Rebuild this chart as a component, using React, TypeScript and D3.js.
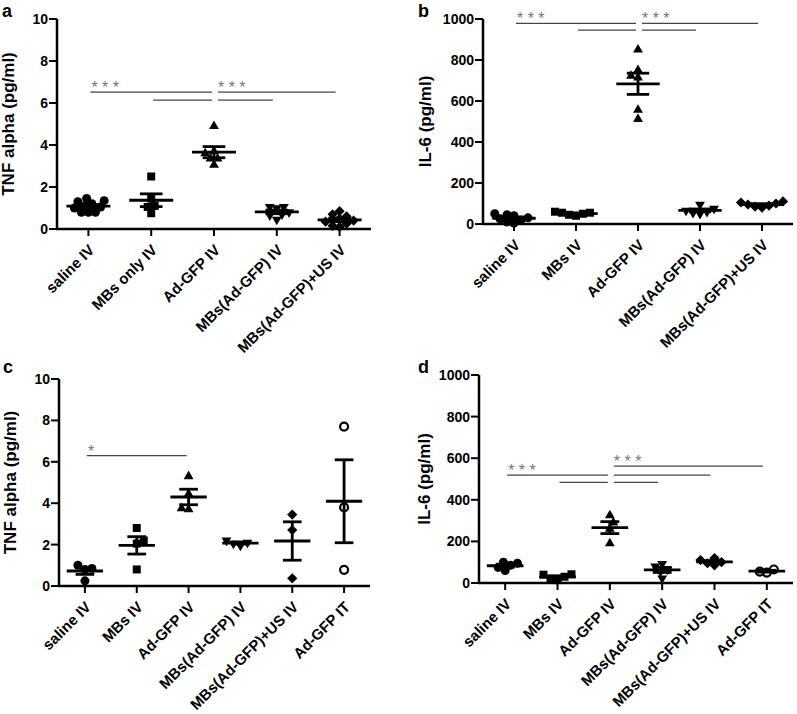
import React from "react";
import * as d3 from "d3";

// ---------- data ----------
const groupsA = ["saline IV", "MBs only IV", "Ad-GFP IV", "MBs(Ad-GFP) IV", "MBs(Ad-GFP)+US IV"];
const groupsB = ["saline IV", "MBs IV", "Ad-GFP IV", "MBs(Ad-GFP) IV", "MBs(Ad-GFP)+US IV"];
const groupsCD = ["saline IV", "MBs IV", "Ad-GFP IV", "MBs(Ad-GFP) IV", "MBs(Ad-GFP)+US IV", "Ad-GFP IT"];

const tnfA: number[][] = [
  [0.8, 0.8, 0.8, 1.0, 1.1, 1.2, 1.3, 1.45, 1.35, 1.05],
  [2.5, 1.45, 1.1, 1.05, 0.75],
  [4.9, 3.7, 3.35, 3.35, 3.05, 3.6],
  [1.05, 1.05, 1.0, 0.8, 0.65, 0.45, 0.7],
  [0.85, 0.7, 0.6, 0.5, 0.35, 0.25, 0.15, 0.1, 0.4],
];
const il6B: number[][] = [
  [50, 45, 40, 30, 25, 20, 10, 5],
  [60, 55, 55, 50, 45, 40],
  [850, 750, 722, 714, 556, 512],
  [95, 75, 65, 60, 55, 50],
  [110, 105, 100, 95, 90, 85, 80],
];
const tnfC: number[][] = [
  [1.0, 0.85, 0.8, 0.25],
  [2.8, 2.2, 2.05, 0.8],
  [5.3, 4.45, 3.75, 3.7],
  [2.2, 2.1, 2.05, 1.95],
  [3.45, 2.7, 0.37],
  [7.7, 3.8, 0.78],
];
const il6D: number[][] = [
  [95, 100, 85, 75, 60],
  [42, 40, 30, 20, 14],
  [325, 290, 260, 190],
  [92, 80, 65, 55, 22],
  [120, 110, 100, 95, 85],
  [65, 50, 55],
];

// significance bars: [fromGroup, toGroup, yValue]
const sigA: [number, number, number][] = [[0, 2, 6.52], [1, 2, 6.14], [2, 4, 6.52], [2, 3, 6.14]];
const sigB: [number, number, number][] = [[0, 2, 979], [1, 2, 946], [2, 4, 979], [2, 3, 946]];
const sigC: [number, number, number][] = [[0, 2, 6.3]];
const sigD: [number, number, number][] = [[0, 2, 519], [1, 2, 484], [2, 5, 562], [2, 4, 519], [2, 3, 484]];
// star labels: [group, yValue, text]
const starsA: [number, number, string][] = [[0, 6.52, "* * *"], [2, 6.52, "* * *"]];
const starsB: [number, number, string][] = [[0, 979, "* * *"], [2, 979, "* * *"]];
const starsC: [number, number, string][] = [[0, 6.3, "*"]];
const starsD: [number, number, string][] = [[0, 519, "* * *"], [2, 562, "* * *"]];

const shapes = ["circle", "square", "triangle", "triangleDown", "diamond", "openCircle"];

// ---------- layout ----------
type Panel = {
  letter: string;
  groups: string[];
  data: number[][];
  sig: [number, number, number][];
  stars: [number, number, string][];
  yMax: number;
  title: string;
  xL: number; xR: number; yT: number; yB: number;
  titleX: number; letterX: number; letterY: number;
};

const panels: Panel[] = [
  { letter: "a", groups: groupsA, data: tnfA, sig: sigA, stars: starsA, yMax: 10, title: "TNF alpha (pg/ml)",
    xL: 57, xR: 371, yT: 19, yB: 229, titleX: 14, letterX: 2, letterY: 17 },
  { letter: "b", groups: groupsB, data: il6B, sig: sigB, stars: starsB, yMax: 1000, title: "IL-6 (pg/ml)",
    xL: 483, xR: 793, yT: 19, yB: 224, titleX: 431, letterX: 418, letterY: 17 },
  { letter: "c", groups: groupsCD, data: tnfC, sig: sigC, stars: starsC, yMax: 10, title: "TNF alpha (pg/ml)",
    xL: 59, xR: 370, yT: 379, yB: 586, titleX: 16, letterX: 3, letterY: 373 },
  { letter: "d", groups: groupsCD, data: il6D, sig: sigD, stars: starsD, yMax: 1000, title: "IL-6 (pg/ml)",
    xL: 479, xR: 793, yT: 375, yB: 583, titleX: 430, letterX: 418, letterY: 373 },
];

const FONT = "'Liberation Sans', Arial, Helvetica, sans-serif";

function swarm(vals: number[], yf: (v: number) => number, d: number): number[] {
  const order = vals.map((_, i) => i).sort((a, b) => vals[a] - vals[b]);
  const placed: { x: number; y: number }[] = [];
  const xs = new Array(vals.length).fill(0);
  let flip = 1;
  for (const i of order) {
    const py = yf(vals[i]);
    const cands = [0];
    for (let k = 1; k < 40; k++) { cands.push(flip * k * d * 0.25, -flip * k * d * 0.25); }
    let chosen = 0;
    for (const c of cands) {
      if (placed.every((p) => Math.hypot(p.x - c, p.y - py) >= d)) { chosen = c; break; }
    }
    flip = -flip;
    placed.push({ x: chosen, y: py });
    xs[i] = chosen;
  }
  return xs;
}

function Marker({ shape, x, y }: { shape: string; x: number; y: number }) {
  let path = "";
  let rot = 0;
  let fill = "#000";
  let stroke = "none";
  let sw = 0;
  if (shape === "circle") path = d3.symbol(d3.symbolCircle, 64)() as string;
  else if (shape === "square") path = d3.symbol(d3.symbolSquare, 64)() as string;
  else if (shape === "triangle") path = d3.symbol(d3.symbolTriangle, 42)() as string;
  else if (shape === "triangleDown") { path = d3.symbol(d3.symbolTriangle, 42)() as string; rot = 180; }
  else if (shape === "diamond") { path = d3.symbol(d3.symbolSquare, 52)() as string; rot = 45; }
  else { path = d3.symbol(d3.symbolCircle, 50)() as string; fill = "#fff"; stroke = "#000"; sw = 2.2; }
  return <path d={path} transform={`translate(${x},${y}) rotate(${rot})`} fill={fill} stroke={stroke} strokeWidth={sw} />;
}

function PanelView({ p }: { p: Panel }) {
  const x = d3.scalePoint<string>().domain(p.groups).range([p.xL, p.xR]).padding(0.5);
  const y = d3.scaleLinear().domain([0, p.yMax]).range([p.yB, p.yT]);
  const step = x.step();
  const ticks = y.ticks(5);
  const mid = 2;
  return (
    <g>
      <text x={p.letterX} y={p.letterY} fontFamily={FONT} fontWeight="bold" fontSize={18}>{p.letter}</text>
      <text transform={`translate(${p.titleX},${(p.yT + p.yB) / 2}) rotate(-90)`} textAnchor="middle"
        fontFamily={FONT} fontWeight="bold" fontSize={17}>{p.title}</text>
      {/* y axis */}
      <line x1={p.xL} x2={p.xL} y1={p.yT} y2={p.yB} stroke="#000" strokeWidth={2.5} />
      {ticks.map((t) => (
        <g key={t}>
          <line x1={p.xL - 8} x2={p.xL} y1={y(t)} y2={y(t)} stroke="#000" strokeWidth={2} />
          <text x={p.xL - 9} y={y(t)} dy="0.36em" textAnchor="end" fontFamily={FONT} fontWeight="bold" fontSize={14}>{t}</text>
        </g>
      ))}
      {/* x axis */}
      <line x1={p.xL - 1} x2={p.xR} y1={p.yB} y2={p.yB} stroke="#000" strokeWidth={2.5} />
      {p.groups.map((g) => (
        <g key={g}>
          <line x1={x(g)!} x2={x(g)!} y1={p.yB} y2={p.yB + 7} stroke="#000" strokeWidth={2} />
          <text transform={`translate(${x(g)! + 7},${p.yB + 22}) rotate(-45)`} textAnchor="end"
            fontFamily={FONT} fontWeight="bold" fontSize={15}>{g}</text>
        </g>
      ))}
      {/* significance */}
      {p.sig.map(([a, b, v], i) => {
        const xa = a < mid ? x(p.groups[a])! + 2 : x(p.groups[a])! + 4;
        const xb = a < mid ? x(p.groups[b])! - 2 : x(p.groups[b])! - 4;
        return <line key={i} x1={xa} x2={xb} y1={y(v)} y2={y(v)} stroke="#444" strokeWidth={1.3} />;
      })}
      {p.stars.map(([gi, v, t], i) => (
        <text key={i} x={x(p.groups[gi])! + (gi < mid ? 3 : 4)} y={y(v) + 1} fontFamily={FONT} fontSize={16} fill="#777">{t}</text>
      ))}
      {/* points */}
      {p.data.map((vals, gi) => {
        const cx = x(p.groups[gi])!;
        const offs = swarm(vals, (v) => y(v), 7);
        return (
          <g key={gi}>
            {vals.map((v, k) => <Marker key={k} shape={shapes[gi]} x={cx + offs[k]} y={y(v)} />)}
          </g>
        );
      })}
      {/* mean and SEM */}
      {p.data.map((vals, gi) => {
        const cx = x(p.groups[gi])!;
        const m = d3.mean(vals)!;
        const sem = (d3.deviation(vals) || 0) / Math.sqrt(vals.length);
        const mw = step * 0.35;
        const cw = step * 0.18;
        return (
          <g key={"m" + gi} stroke="#000" strokeWidth={2.8}>
            <line x1={cx - mw} x2={cx + mw} y1={y(m)} y2={y(m)} />
            <line x1={cx} x2={cx} y1={y(m - sem)} y2={y(m + sem)} />
            <line x1={cx - cw} x2={cx + cw} y1={y(m + sem)} y2={y(m + sem)} />
            <line x1={cx - cw} x2={cx + cw} y1={y(m - sem)} y2={y(m - sem)} />
          </g>
        );
      })}
    </g>
  );
}

export default function App() {
  return (
    <svg width={797} height={714} style={{ position: "absolute", left: 0, top: 0, background: "#fff" }}>
      <rect width={797} height={714} fill="#fff" />
      {panels.map((p) => <PanelView key={p.letter} p={p} />)}
    </svg>
  );
}
